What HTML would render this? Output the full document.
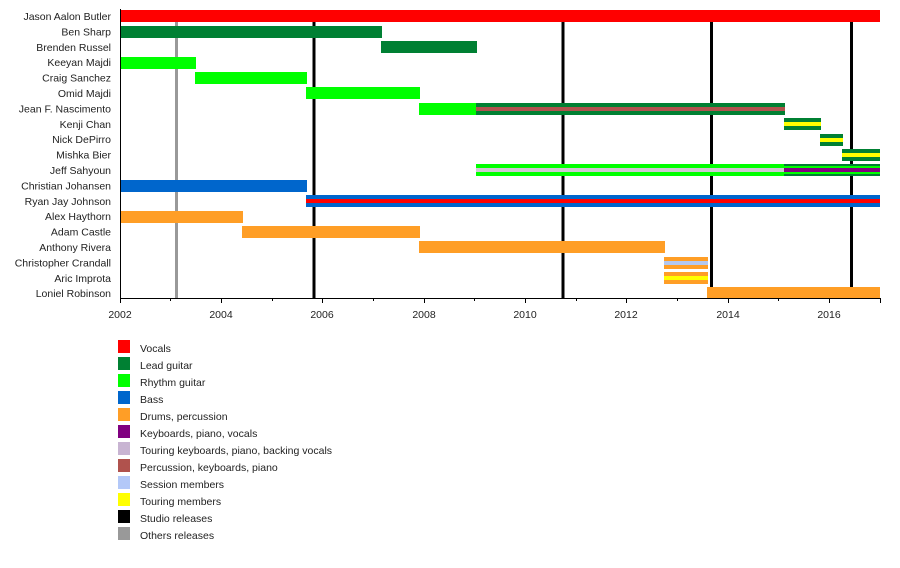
<!DOCTYPE html>
<html><head><meta charset="utf-8"><style>
body{margin:0;background:#fff;}
svg{display:block;font-family:"Liberation Sans",sans-serif;font-size:10.5px;fill:#222;}
</style></head><body>
<svg width="900" height="568" viewBox="0 0 900 568">
<g text-anchor="end">
<text x="111" y="20">Jason Aalon Butler</text>
<text x="111" y="35.4">Ben Sharp</text>
<text x="111" y="50.8">Brenden Russel</text>
<text x="111" y="66.2">Keeyan Majdi</text>
<text x="111" y="81.6">Craig Sanchez</text>
<text x="111" y="97">Omid Majdi</text>
<text x="111" y="112.4">Jean F. Nascimento</text>
<text x="111" y="127.8">Kenji Chan</text>
<text x="111" y="143.2">Nick DePirro</text>
<text x="111" y="158.6">Mishka Bier</text>
<text x="111" y="174">Jeff Sahyoun</text>
<text x="111" y="189.4">Christian Johansen</text>
<text x="111" y="204.8">Ryan Jay Johnson</text>
<text x="111" y="220.2">Alex Haythorn</text>
<text x="111" y="235.6">Adam Castle</text>
<text x="111" y="251">Anthony Rivera</text>
<text x="111" y="266.4">Christopher Crandall</text>
<text x="111" y="281.8">Aric Improta</text>
<text x="111" y="297.2">Loniel Robinson</text>
</g>
<!-- release lines -->
<rect x="175" y="22" width="3" height="276" fill="#999"/>
<g fill="#000">
<rect x="312.5" y="22" width="3" height="276"/>
<rect x="561.5" y="22" width="3" height="276"/>
<rect x="710" y="22" width="3" height="276"/>
<rect x="850" y="22" width="3" height="276"/>
</g>
<!-- bars -->
<rect x="120" y="10" width="760" height="12" fill="#ff0000"/>
<rect x="120" y="26" width="262" height="12" fill="#008033"/>
<rect x="381" y="41" width="96" height="12" fill="#008033"/>
<rect x="120" y="57" width="76" height="12" fill="#00ff00"/>
<rect x="195" y="72" width="112" height="12" fill="#00ff00"/>
<rect x="306" y="87" width="114" height="12" fill="#00ff00"/>
<rect x="419" y="103" width="58" height="12" fill="#00ff00"/>
<rect x="476" y="103" width="309" height="12" fill="#008033"/>
<rect x="476" y="107" width="309" height="4" fill="#b0524d"/>
<rect x="784" y="118" width="37" height="12" fill="#008033"/>
<rect x="784" y="122" width="37" height="4" fill="#ffff00"/>
<rect x="820" y="134" width="23" height="12" fill="#008033"/>
<rect x="820" y="138" width="23" height="4" fill="#ffff00"/>
<rect x="842" y="149" width="38" height="12" fill="#008033"/>
<rect x="842" y="153" width="38" height="4" fill="#ffff00"/>
<rect x="476" y="164" width="309" height="12" fill="#00ff00"/>
<rect x="476" y="168" width="309" height="4" fill="#cfc8d4"/>
<rect x="784" y="164" width="96" height="12" fill="#008033"/>
<rect x="784" y="166" width="96" height="8" fill="#00ff00"/>
<rect x="784" y="168" width="96" height="4" fill="#800080"/>
<rect x="120" y="180" width="187" height="12" fill="#0066cc"/>
<rect x="306" y="195" width="574" height="12" fill="#0066cc"/>
<rect x="306" y="199" width="574" height="4" fill="#ff0000"/>
<rect x="120" y="211" width="123" height="12" fill="#ff9e26"/>
<rect x="242" y="226" width="178" height="12" fill="#ff9e26"/>
<rect x="419" y="241" width="246" height="12" fill="#ff9e26"/>
<rect x="664" y="257" width="44" height="12" fill="#ff9e26"/>
<rect x="664" y="261" width="44" height="4" fill="#b3c8f0"/>
<rect x="664" y="272" width="44" height="12" fill="#ff9e26"/>
<rect x="664" y="276" width="44" height="4" fill="#ffff00"/>
<rect x="707" y="287" width="173" height="11" fill="#ff9e26"/>
<!-- axes -->
<rect x="120" y="9" width="1" height="290" fill="#000"/>
<rect x="120" y="298" width="761" height="1" fill="#000"/>
<g fill="#000">
<rect x="120" y="298" width="1" height="5"/><rect x="221" y="298" width="1" height="5"/><rect x="322" y="298" width="1" height="5"/><rect x="424" y="298" width="1" height="5"/><rect x="525" y="298" width="1" height="5"/><rect x="626" y="298" width="1" height="5"/><rect x="728" y="298" width="1" height="5"/><rect x="829" y="298" width="1" height="5"/><rect x="880" y="298" width="1" height="5"/>
<rect x="170" y="298" width="1" height="3"/><rect x="272" y="298" width="1" height="3"/><rect x="373" y="298" width="1" height="3"/><rect x="474" y="298" width="1" height="3"/><rect x="576" y="298" width="1" height="3"/><rect x="677" y="298" width="1" height="3"/><rect x="778" y="298" width="1" height="3"/>
</g>
<g text-anchor="middle">
<text x="120" y="318">2002</text><text x="221" y="318">2004</text><text x="322" y="318">2006</text><text x="424" y="318">2008</text><text x="525" y="318">2010</text><text x="626" y="318">2012</text><text x="728" y="318">2014</text><text x="829" y="318">2016</text>
</g>
<!-- legend -->
<rect x="118" y="340" width="12" height="13" fill="#ff0000"/><text x="140" y="352">Vocals</text>
<rect x="118" y="357" width="12" height="13" fill="#008033"/><text x="140" y="369">Lead guitar</text>
<rect x="118" y="374" width="12" height="13" fill="#00ff00"/><text x="140" y="386">Rhythm guitar</text>
<rect x="118" y="391" width="12" height="13" fill="#0066cc"/><text x="140" y="403">Bass</text>
<rect x="118" y="408" width="12" height="13" fill="#ff9e26"/><text x="140" y="420">Drums, percussion</text>
<rect x="118" y="425" width="12" height="13" fill="#800080"/><text x="140" y="437">Keyboards, piano, vocals</text>
<rect x="118" y="442" width="12" height="13" fill="#c8b4d2"/><text x="140" y="454">Touring keyboards, piano, backing vocals</text>
<rect x="118" y="459" width="12" height="13" fill="#b0524d"/><text x="140" y="471">Percussion, keyboards, piano</text>
<rect x="118" y="476" width="12" height="13" fill="#b3c8f8"/><text x="140" y="488">Session members</text>
<rect x="118" y="493" width="12" height="13" fill="#ffff00"/><text x="140" y="505">Touring members</text>
<rect x="118" y="510" width="12" height="13" fill="#000"/><text x="140" y="522">Studio releases</text>
<rect x="118" y="527" width="12" height="13" fill="#999"/><text x="140" y="539">Others releases</text>
</svg>
</body></html>
